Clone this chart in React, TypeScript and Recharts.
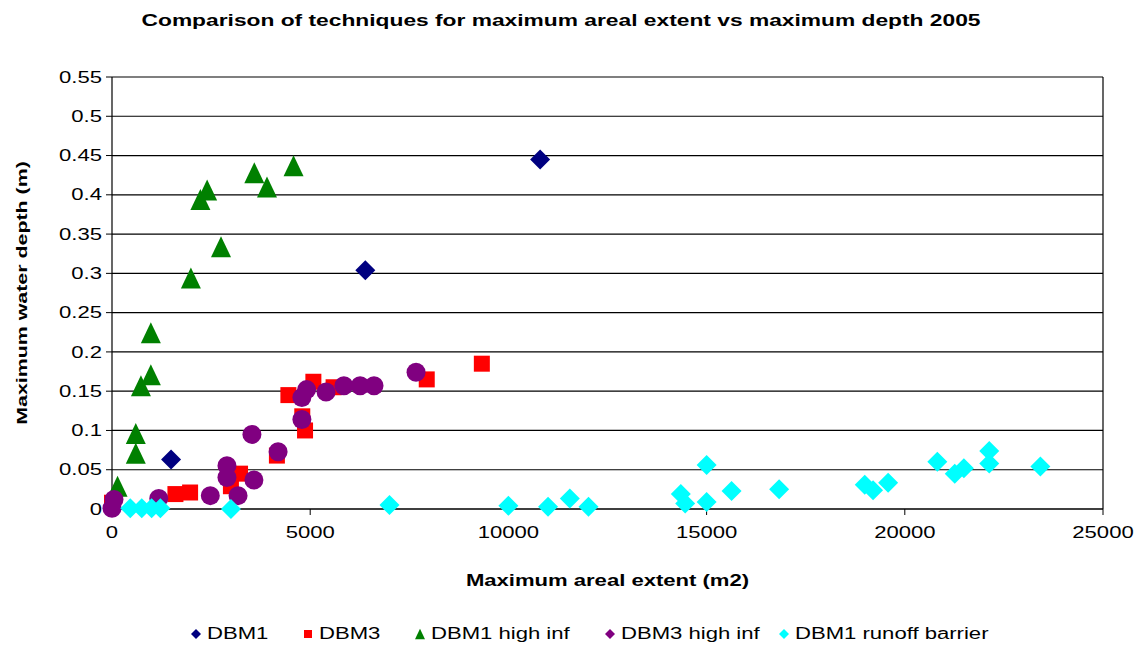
import React from 'react';
import { ScatterChart, Scatter, XAxis, YAxis, CartesianGrid, Legend, ReferenceLine } from 'recharts';

const FONT = '"Liberation Sans", Arial, sans-serif';
const SX = 1.38;

const chartTitle = 'Comparison of techniques for maximum areal extent vs maximum depth 2005';
const xTitle = 'Maximum areal extent (m2)';
const yTitle = 'Maximum water depth (m)';

const xTicks = [0, 5000, 10000, 15000, 20000, 25000];
const yTicks = [0, 0.05, 0.1, 0.15, 0.2, 0.25, 0.3, 0.35, 0.4, 0.45, 0.5, 0.55];

const dbm1: [number, number][] = [
  [1490, 0.063], [6390, 0.304], [10800, 0.445],
];
const dbm3: [number, number][] = [
  [0, 0.008], [1600, 0.019], [1970, 0.021], [3000, 0.029], [3230, 0.045], [4160, 0.068],
  [4450, 0.145], [4800, 0.118], [4870, 0.1], [5080, 0.162], [5590, 0.155], [7940, 0.165], [9330, 0.185],
];
const dbm1HighInf: [number, number][] = [
  [140, 0.029], [600, 0.071], [600, 0.096], [730, 0.157], [980, 0.171], [980, 0.2245],
  [1990, 0.294], [2230, 0.394], [2400, 0.406], [2750, 0.334], [3590, 0.428], [3910, 0.41], [4580, 0.437],
];
const dbm3HighInf: [number, number][] = [
  [0, 0.001], [50, 0.012], [1180, 0.0135], [2480, 0.017], [2900, 0.055], [2900, 0.04], [3180, 0.017],
  [3580, 0.037], [3530, 0.095], [4190, 0.073], [4790, 0.114], [4790, 0.142], [4910, 0.152], [5400, 0.149],
  [5850, 0.157], [6260, 0.157], [6610, 0.157], [7670, 0.174],
];
const dbm1Runoff: [number, number][] = [
  [460, 0.001], [750, 0.001], [1000, 0.001], [1220, 0.001], [3000, 0], [7000, 0.005], [10000, 0.004],
  [11000, 0.003], [11550, 0.0135], [12020, 0.003], [14350, 0.019], [14460, 0.007], [15000, 0.056],
  [15000, 0.009], [15630, 0.023], [16830, 0.025], [18990, 0.031], [19200, 0.024], [19580, 0.0335],
  [20820, 0.06], [21260, 0.045], [21490, 0.052], [22130, 0.074], [22130, 0.058], [23420, 0.054],
];

const seriesNames = ['DBM1', 'DBM3', 'DBM1 high inf', 'DBM3 high inf', 'DBM1 runoff barrier'];
const seriesColors = ['#000080', '#FF0000', '#008000', '#800080', '#00FFFF'];
const seriesData = [dbm1, dbm3, dbm1HighInf, dbm3HighInf, dbm1Runoff];
const markerKinds = ['diamond', 'square', 'triangle', 'circle', 'diamond'];
const legendKinds = ['diamond', 'square', 'triangle', 'diamond', 'diamond'];
const legendGaps = [34, 34, 34, 18, 0];

let ctx: CanvasRenderingContext2D | null = null;
function measure(text: string, font: string): number {
  if (!ctx) ctx = document.createElement('canvas').getContext('2d');
  if (!ctx) return text.length * 8;
  ctx.font = font;
  return ctx.measureText(text).width;
}

function markerPath(kind: string, cx: number, cy: number, s: number): string {
  if (kind === 'diamond') return `M${cx},${cy - s}L${cx + s},${cy}L${cx},${cy + s}L${cx - s},${cy}Z`;
  if (kind === 'square') return `M${cx - s},${cy - s}H${cx + s}V${cy + s}H${cx - s}Z`;
  if (kind === 'triangle') return `M${cx},${cy - s * 1.05}L${cx + s},${cy + s * 1.05}L${cx - s},${cy + s * 1.05}Z`;
  return '';
}

const makeShape = (kind: string, color: string) => (p: any) => {
  const { cx, cy } = p;
  if (cx == null || cy == null) return <g />;
  if (kind === 'circle') return <circle cx={cx} cy={cy} r={9.5} fill={color} />;
  const size = kind === 'square' ? 8 : 10;
  return <path d={markerPath(kind, cx, cy, size)} fill={color} />;
};

const YTick = (props: any) => {
  const { x, y, payload } = props;
  const label = String(Number(payload.value.toFixed(2)));
  return (
    <g transform={`translate(${x},${y})`}>
      <text transform={`scale(${SX},1)`} textAnchor="end" dy="0.35em" fontSize={16} fontFamily={FONT} fill="#000">{label}</text>
    </g>
  );
};

const XTick = (props: any) => {
  const { x, y, payload } = props;
  return (
    <g transform={`translate(${x},${y})`}>
      <text transform={`scale(${SX},1)`} textAnchor="middle" dy="0.71em" fontSize={16} fontFamily={FONT} fill="#000">{String(payload.value)}</text>
    </g>
  );
};

const YLabel = (props: any) => {
  const vb = props.viewBox || { x: 0, y: 77, width: 112, height: 432 };
  const cx = vb.x + 22;
  const cy = vb.y + vb.height / 2;
  return (
    <text transform={`translate(${cx},${cy}) rotate(-90) scale(${SX},1)`} textAnchor="middle" dy="0.35em" fontWeight="bold" fontSize={15.5} fontFamily={FONT} fill="#000">{yTitle}</text>
  );
};

const XLabel = (props: any) => {
  const vb = props.viewBox || { x: 112, y: 509, width: 991, height: 85 };
  const cx = vb.x + vb.width / 2;
  const cy = vb.y + 71;
  return (
    <text transform={`translate(${cx},${cy}) scale(${SX},1)`} textAnchor="middle" dy="0.35em" fontWeight="bold" fontSize={16} fontFamily={FONT} fill="#000">{xTitle}</text>
  );
};

const LegendContent = () => (
  <div style={{ display: 'flex', justifyContent: 'center', alignItems: 'center', height: 20, paddingLeft: 40, fontFamily: FONT, fontSize: 16, color: '#000' }}>
    {seriesNames.map((name, i) => (
      <div key={name} style={{ display: 'flex', alignItems: 'center', marginRight: legendGaps[i] }}>
        <svg width={12} height={12} style={{ display: 'block' }}>
          <path d={markerPath(legendKinds[i], 6, 6, legendKinds[i] === 'square' ? 4 : 5)} fill={seriesColors[i]} />
        </svg>
        <span style={{ display: 'inline-block', width: measure(name, `16px "Liberation Sans"`) * SX, marginLeft: 5, whiteSpace: 'nowrap', lineHeight: '20px' }}>
          <span style={{ display: 'inline-block', transform: `scaleX(${SX})`, transformOrigin: '0 50%' }}>{name}</span>
        </span>
      </div>
    ))}
  </div>
);

export default function App() {
  return (
    <div style={{ position: 'absolute', left: 0, top: 0, width: 1138, height: 648, background: '#fff' }}>
      <div style={{ position: 'absolute', left: 0, top: 10, width: 1122, textAlign: 'center', fontFamily: FONT, fontWeight: 'bold', fontSize: 16.5, lineHeight: '20px', color: '#000', transform: `scaleX(${SX})`, zIndex: 2 }}>
        {chartTitle}
      </div>
      <ScatterChart width={1138} height={648} margin={{ top: 77, right: 35, left: 0, bottom: 34 }}>
        <CartesianGrid horizontal={true} vertical={false} stroke="#000" strokeOpacity={1} strokeWidth={1.2} />
        <XAxis
          type="number"
          dataKey="x"
          domain={[0, 25000]}
          ticks={xTicks}
          height={85}
          tickSize={6}
          tickMargin={12}
          axisLine={{ stroke: '#000', strokeWidth: 1.2 }}
          tickLine={{ stroke: '#000' }}
          tick={(p: any) => <XTick {...p} />}
          label={<XLabel />}
        />
        <YAxis
          type="number"
          dataKey="y"
          domain={[0, 0.55]}
          ticks={yTicks}
          width={112}
          tickSize={6}
          tickMargin={4}
          axisLine={{ stroke: '#000', strokeWidth: 1.2 }}
          tickLine={{ stroke: '#000' }}
          tick={(p: any) => <YTick {...p} />}
          label={<YLabel />}
        />
        <ReferenceLine x={25000} stroke="#000" strokeWidth={1.2} />
        <Legend
          verticalAlign="bottom"
          content={() => <LegendContent />}
          wrapperStyle={{ top: 624, bottom: 'auto', left: 0, width: 1138, height: 20 }}
        />
        {seriesData.map((d, i) => (
          <Scatter
            key={seriesNames[i]}
            name={seriesNames[i]}
            data={d.map(([x, y]) => ({ x, y }))}
            fill={seriesColors[i]}
            shape={makeShape(markerKinds[i], seriesColors[i])}
            isAnimationActive={false}
          />
        ))}
      </ScatterChart>
    </div>
  );
}
